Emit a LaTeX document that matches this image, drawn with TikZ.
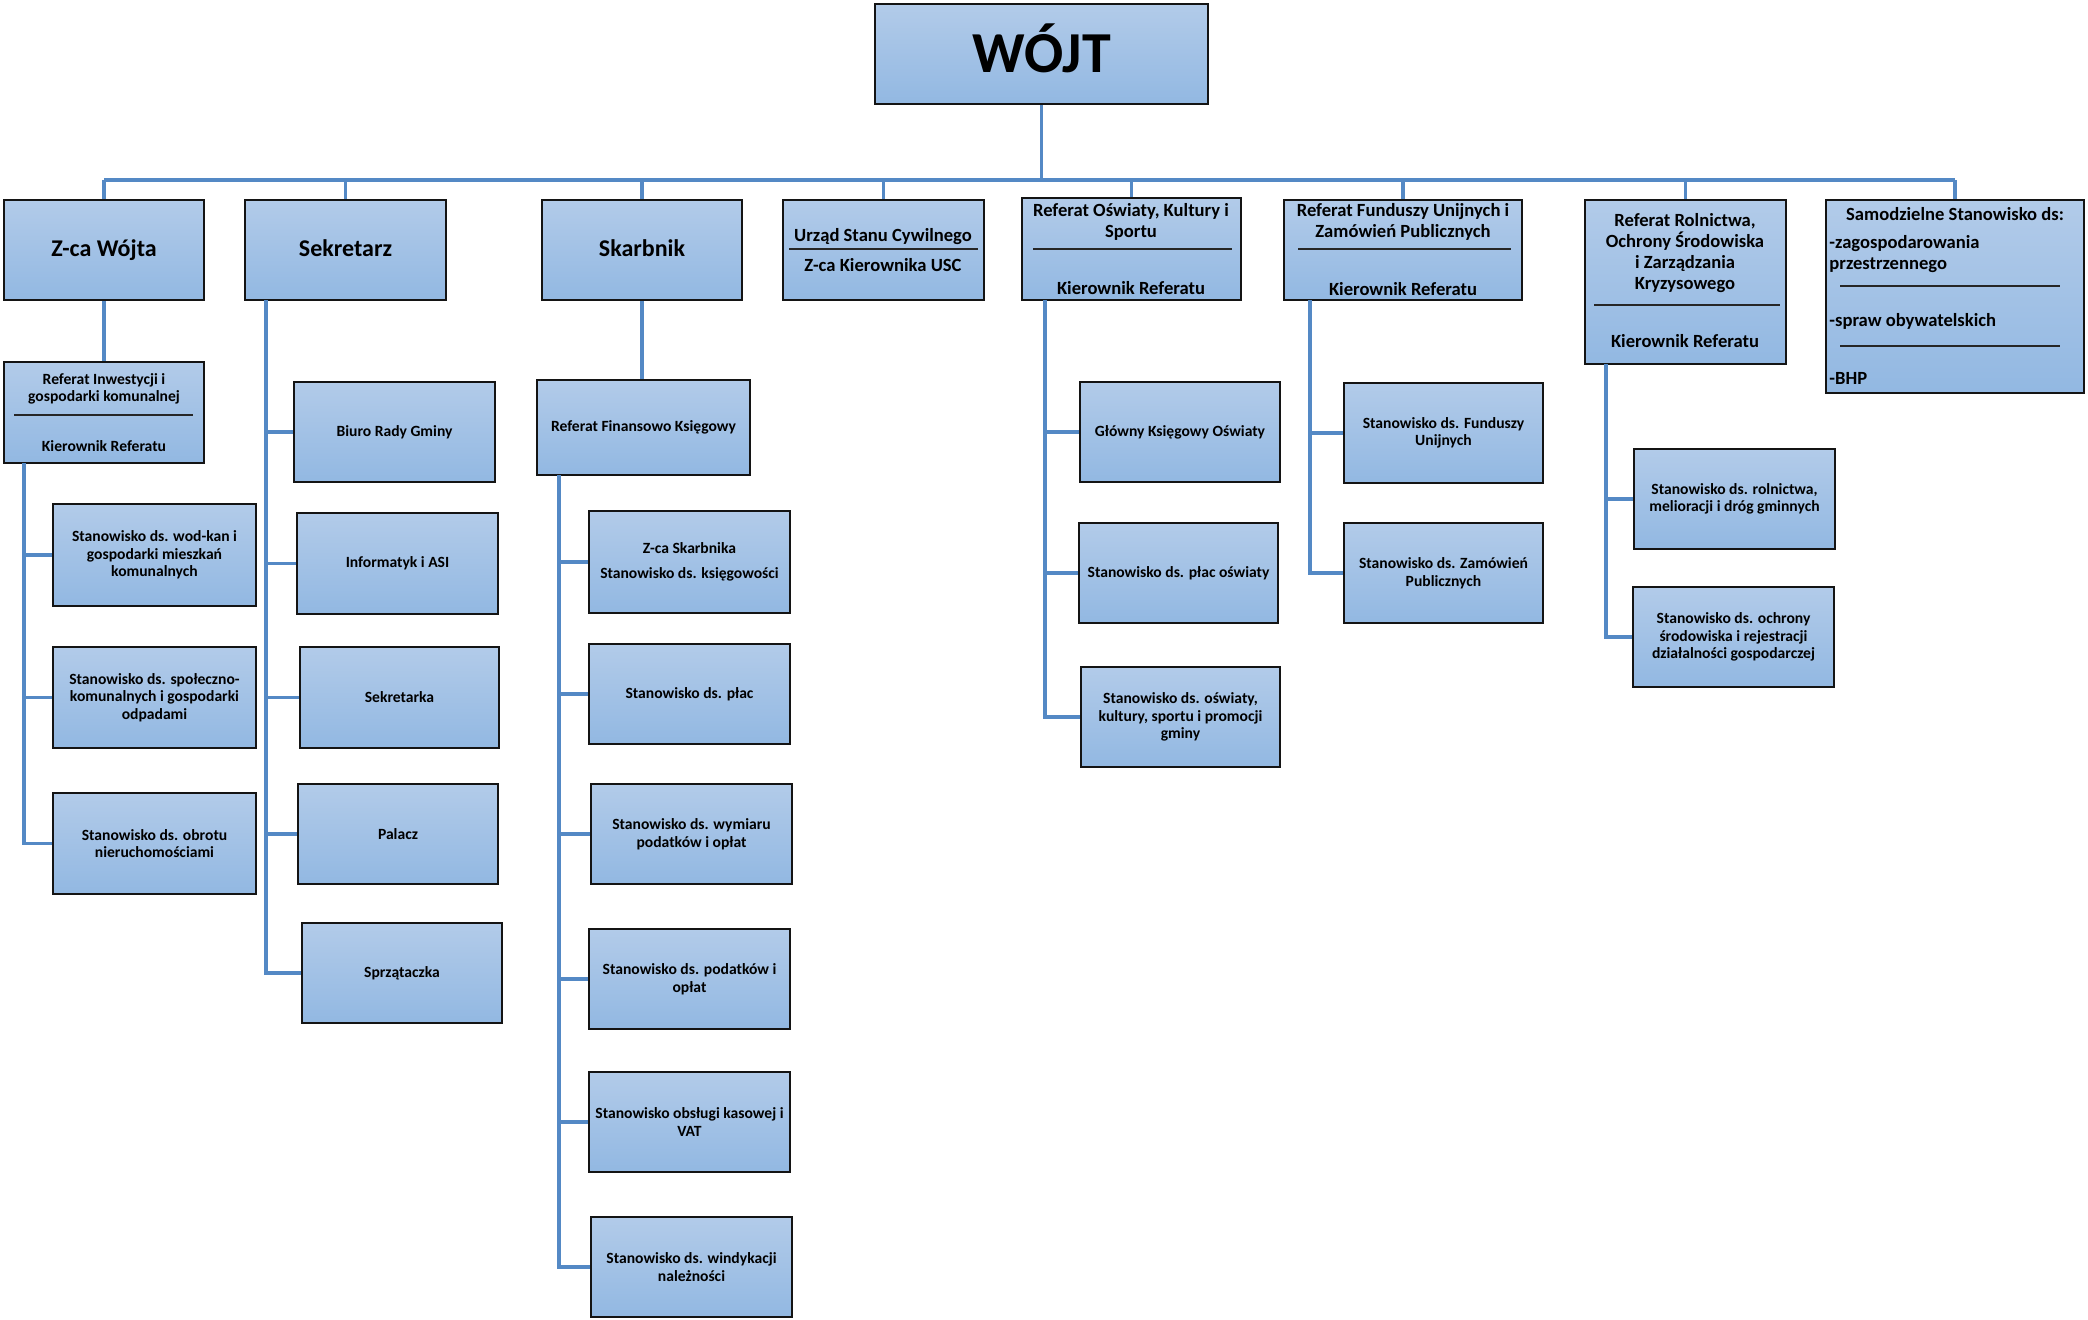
\documentclass[tikz,border=0pt]{standalone}
\usepackage{fontspec}
\setmainfont{Carlito}
\usetikzlibrary{calc}
\definecolor{conn}{RGB}{84,137,197}
\definecolor{btop}{RGB}{178,203,233}
\definecolor{bbot}{RGB}{146,184,226}
\definecolor{bord}{RGB}{20,20,20}
\tikzset{
  box/.style={draw=bord, line width=1pt, top color=btop, bottom color=bbot, inner sep=0pt, align=center,
    font=\bfseries\fontsize{7.8}{8.8}\selectfont},
  bigbox/.style={box, font=\bfseries\fontsize{12}{14}\selectfont, text height=8.6pt, text depth=2.2pt},
  link/.style={draw=conn, line width=1.6pt},
  sepline/.style={draw=black!85, line width=0.6pt},
  medtxt/.style={font=\bfseries\fontsize{9.3}{10.4}\selectfont, inner sep=0pt, align=center},
  smtxt/.style={font=\bfseries\fontsize{7.8}{8.8}\selectfont, inner sep=0pt, align=center},
}
\newcommand\orgbox[7][]{%
  \pgfmathsetmacro\bw{(#5-#3)*0.5}%
  \pgfmathsetmacro\bh{(#6-#4)*0.5}%
  \node[box,minimum width=\bw pt,minimum height=\bh pt,#1] (#2) at ({(#3+#5)/2},{(#4+#6)/2}) {#7};}
\begin{document}
\begin{tikzpicture}[x=0.5pt,y=-0.5pt]
\fill[white] (0,0) rectangle (2088,1319);
\useasboundingbox (0,0) rectangle (2088,1319);

% top
\orgbox{wojt}{875}{4}{1208}{104}{}
\node[anchor=base, inner sep=0pt, font=\bfseries\fontsize{29}{34}\selectfont] (wojtT) at (1041.5,72) {WÓJT};

% row 1
\orgbox[bigbox]{zca}{4}{200}{204}{300}{Z-ca Wójta}
\orgbox[bigbox]{sek}{245}{200}{446}{300}{Sekretarz}
\orgbox[bigbox]{skarb}{542}{200}{742}{300}{Skarbnik}
\orgbox{usc}{783}{200}{984}{300}{}
\orgbox{osw}{1022}{198}{1241}{300}{}
\orgbox{fund}{1284}{200}{1522}{300}{}
\orgbox{roln}{1585}{200}{1786}{364}{}
\orgbox{samo}{1826}{200}{2084}{393}{}

% USC contents
\node[medtxt] (uscA) at (883,237) {Urząd Stanu Cywilnego};
\draw[sepline] (789,249) -- (978,249);
\node[medtxt] (uscB) at (883,265) {Z-ca Kierownika USC};

% Oswiaty contents
\node[medtxt] (oswA) at (1131,222) {Referat Oświaty, Kultury i\\Sportu};
\draw[sepline] (1033,249) -- (1232,249);
\node[medtxt] (oswB) at (1131,288) {Kierownik Referatu};

% Fundusze contents
\node[medtxt] (fundA) at (1403,222) {Referat Funduszy Unijnych i\\Zamówień Publicznych};
\draw[sepline] (1298,249) -- (1511,249);
\node[medtxt] (fundB) at (1403,289) {Kierownik Referatu};

% Rolnictwa contents
\node[medtxt] (rolnA) at (1685,253) {Referat Rolnictwa,\\Ochrony Środowiska\\i Zarządzania\\Kryzysowego};
\draw[sepline] (1594,305) -- (1780,305);
\node[medtxt] (rolnB) at (1685,341) {Kierownik Referatu};

% Samodzielne contents
\node[medtxt] (samoA) at (1955,214) {Samodzielne Stanowisko ds:};
\node[medtxt,anchor=west,align=left] (samoB) at (1829,254) {-zagospodarowania\\przestrzennego};
\draw[sepline] (1840,286) -- (2060,286);
\node[medtxt,anchor=west] (samoC) at (1829,321) {-spraw obywatelskich};
\draw[sepline] (1840,346) -- (2060,346);
\node[medtxt,anchor=west] (samoD) at (1829,378) {-BHP};

% Referat Inwestycji
\orgbox{rinw}{4}{362}{204}{463}{}
\node[smtxt] (rinwA) at (104,389) {Referat Inwestycji i\\gospodarki komunalnej};
\draw[sepline] (14,415) -- (193,415);
\node[smtxt] (rinwB) at (104,446) {Kierownik Referatu};

\orgbox{wodkan}{53}{504}{256}{606}{Stanowisko ds. wod-kan i\\gospodarki mieszkań\\komunalnych}
\orgbox{spol}{53}{647}{256}{748}{Stanowisko ds. społeczno-\\komunalnych i gospodarki\\odpadami}
\orgbox{obrot}{53}{793}{256}{894}{Stanowisko ds. obrotu\\nieruchomościami}

% Sekretarz children
\orgbox{biuro}{294}{382}{495}{482}{Biuro Rady Gminy}
\orgbox{inf}{297}{513}{498}{614}{Informatyk i ASI}
\orgbox{sekr}{300}{647}{499}{748}{Sekretarka}
\orgbox{palacz}{298}{784}{498}{884}{Palacz}
\orgbox{sprz}{302}{923}{502}{1023}{Sprzątaczka}

% Skarbnik children
\orgbox{rfk}{537}{380}{750}{475}{Referat Finansowo Księgowy}
\orgbox{zsk}{589}{511}{790}{613}{Z-ca Skarbnika\\[4pt]Stanowisko ds. księgowości}
\orgbox{plac}{589}{644}{790}{744}{Stanowisko ds. płac}
\orgbox{wym}{591}{784}{792}{884}{Stanowisko ds. wymiaru\\podatków i opłat}
\orgbox{pod}{589}{929}{790}{1029}{Stanowisko ds. podatków i\\opłat}
\orgbox{kas}{589}{1072}{790}{1172}{Stanowisko obsługi kasowej i\\VAT}
\orgbox{wind}{591}{1217}{792}{1317}{Stanowisko ds. windykacji\\należności}

% Oswiaty children
\orgbox{gko}{1080}{382}{1280}{482}{Główny Księgowy Oświaty}
\orgbox{po}{1079}{523}{1278}{623}{Stanowisko ds. płac oświaty}
\orgbox{oku}{1081}{667}{1280}{767}{Stanowisko ds. oświaty,\\kultury, sportu i promocji\\gminy}

% Fundusze children
\orgbox{fu}{1344}{383}{1543}{483}{Stanowisko ds. Funduszy\\Unijnych}
\orgbox{zp}{1344}{523}{1543}{623}{Stanowisko ds. Zamówień\\Publicznych}

% Rolnictwa children
\orgbox{rm}{1634}{449}{1835}{549}{Stanowisko ds. rolnictwa,\\melioracji i dróg gminnych}
\orgbox{och}{1633}{587}{1834}{687}{Stanowisko ds. ochrony\\środowiska i rejestracji\\działalności gospodarczej}

% ---- connectors ----
\coordinate (busL) at (104,180);
\coordinate (busR) at (1955,180);
\draw[link] (busL) -- (busR);
\draw[link] (wojt.south) -- (wojt.south |- busL);
\foreach \n in {zca,sek,skarb,usc,osw,fund,roln,samo}
  \draw[link] (\n.north) -- (\n.north |- busL);

\draw[link] (zca.south) -- (rinw.north);
\coordinate (rv) at (24,463);
\draw[link] (rv) -- (rv |- obrot.west) -- (obrot.west);
\foreach \n in {wodkan,spol} \draw[link] (rv |- \n.west) -- (\n.west);

\coordinate (sv) at (266,300);
\draw[link] (sv) -- (sv |- sprz.west) -- (sprz.west);
\foreach \n in {biuro,inf,sekr,palacz} \draw[link] (sv |- \n.west) -- (\n.west);

\draw[link] (skarb.south) -- (skarb.south |- rfk.north);
\coordinate (fv) at (559,475);
\draw[link] (fv) -- (fv |- wind.west) -- (wind.west);
\foreach \n in {zsk,plac,wym,pod,kas} \draw[link] (fv |- \n.west) -- (\n.west);

\coordinate (ov) at (1045,300);
\draw[link] (ov) -- (ov |- oku.west) -- (oku.west);
\foreach \n in {gko,po} \draw[link] (ov |- \n.west) -- (\n.west);

\coordinate (uv) at (1310,300);
\draw[link] (uv) -- (uv |- zp.west) -- (zp.west);
\draw[link] (uv |- fu.west) -- (fu.west);

\coordinate (lv) at (1606,364);
\draw[link] (lv) -- (lv |- och.west) -- (och.west);
\draw[link] (lv |- rm.west) -- (rm.west);
\end{tikzpicture}
\end{document}
